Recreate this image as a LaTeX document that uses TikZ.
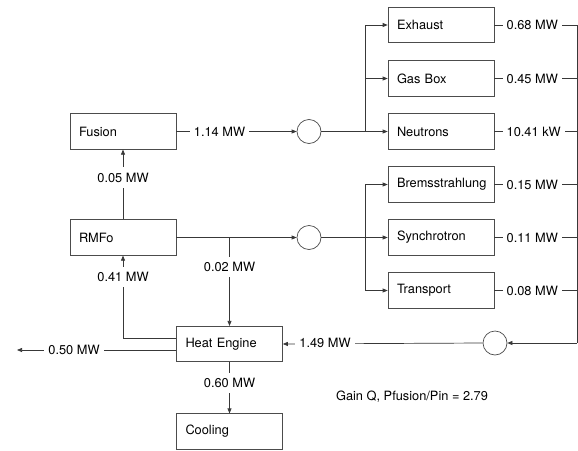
\documentclass[tikz,border=0pt]{standalone}
\usepackage{fontspec}
\setmainfont{TeX Gyre Heros}
\usetikzlibrary{arrows.meta,calc}
\begin{document}
\begin{tikzpicture}[x=1pt,y=-1pt,
  font=\fontsize{12.8}{15}\selectfont,
  line width=0.7pt,
  wire/.style={draw=black!78},
  box/.style={draw=black!70, rectangle, minimum width=106pt, minimum height=35.5pt,
    inner xsep=9pt, text width=88pt, align=left},
  hub/.style={draw=black!70, circle, minimum size=24pt, inner sep=0pt},
  lbl/.style={fill=white, inner xsep=4pt, inner ysep=2pt},
  vlbl/.style={fill=white, inner xsep=2pt, inner ysep=5.5pt},
  arr/.style={wire, -{Triangle[length=5pt,width=4pt]}}
]
\useasboundingbox (0,0) rectangle (578,450);
% boxes
\node[box] (fusion) at (123,131.5) {Fusion};
\node[box] (rmfo) at (123,237.5) {RMFo};
\node[box] (he) at (229.5,344) {Heat Engine};
\node[box] (cool) at (229.5,431.5) {Cooling};
\node[box] (exh) at (441,25) {Exhaust};
\node[box] (gas) at (441,78.5) {Gas Box};
\node[box] (neu) at (441,131.5) {Neutrons};
\node[box] (brem) at (441,184.5) {Bremsstrahlung};
\node[box] (sync) at (441,237.5) {Synchrotron};
\node[box] (trans) at (441,290.5) {Transport};
% hubs
\node[hub] (c1) at (309,131.5) {};
\node[hub] (c2) at (309,237.5) {};
\node[hub] (c3) at (495,343) {};
% coordinates
\coordinate (br1) at (365,25);
\coordinate (br2) at (365,184.5);
\coordinate (railtop) at (577,25);
\coordinate (railbot) at (577,343);
\coordinate (out) at (17,350);
% fusion -> c1
\draw[arr] (fusion.east) -- (c1.west);
\node[lbl] at (219.5,131.5) {1.14 MW};
% c1 -> split
\draw[arr] (c1.east) -- (neu.west);
\draw[wire] (br1) -- (br1 |- neu.west);
\draw[arr] (br1) -- (exh.west);
\draw[arr] (br1 |- gas.west) -- (gas.west);
% rmfo -> c2
\draw[arr] (rmfo.east) -- (c2.west);
\draw[arr] (c2.east) -- (sync.west);
\draw[wire] (br2) -- (br2 |- trans.west);
\draw[arr] (br2) -- (brem.west);
\draw[arr] (br2 |- trans.west) -- (trans.west);
% rmfo -> fusion
\draw[arr] (rmfo.north) -- (fusion.south);
\node[vlbl] at (123,177.5) {0.05 MW};
% tap to heat engine
\draw[arr] (rmfo.east -| he.north) -- (he.north);
\node[vlbl] at (229.5,267) {0.02 MW};
% heat engine -> rmfo
\draw[arr] ([yshift=6pt]he.west) -| (rmfo.south);
\node[vlbl] at (123,277) {0.41 MW};
% heat engine -> out
\draw[arr] ([yshift=-6pt]he.west) -- (out);
\node[lbl] at (74,350) {0.50 MW};
% heat engine -> cooling
\draw[arr] (he.south) -- (cool.north);
\node[vlbl] at (229.5,383) {0.60 MW};
% right rail
\foreach \b/\t in {exh/0.68 MW, gas/0.45 MW, neu/10.41 kW, brem/0.15 MW, sync/0.11 MW, trans/0.08 MW}{
  \draw[wire] (\b.east) -- (\b.east -| railtop);
  \node[lbl, anchor=west] at ([xshift=8pt]\b.east) {\t};
}
\draw[wire] (railtop) -- (railbot);
\draw[arr] (railbot) -- (c3.east);
\draw[arr] (c3.west) -- (he.east);
\node[lbl] at (325,343) {1.49 MW};
% gain
\node at (412,397) {Gain Q, Pfusion/Pin = 2.79};
\end{tikzpicture}
\end{document}
